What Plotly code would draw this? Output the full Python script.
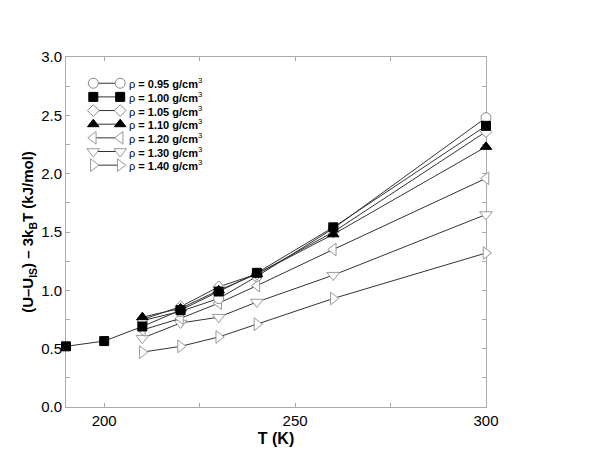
import plotly.graph_objects as go

# temperatures (K)
t_low = [190, 200, 210, 220, 230, 240, 260, 300]
t_main = [210, 220, 230, 240, 260, 300]

# (U - U_IS) - 3k_BT  (kJ/mol) for each density
u_095 = [0.74, 0.82, 0.93, 1.12, 1.53, 2.48]
u_100 = [0.52, 0.565, 0.69, 0.83, 0.99, 1.15, 1.54, 2.41]
u_105 = [0.75, 0.86, 1.03, 1.14, 1.50, 2.36]
u_110 = [0.77, 0.845, 1.00, 1.14, 1.48, 2.23]
u_120 = [0.66, 0.76, 0.89, 1.04, 1.35, 1.96]
u_130 = [0.59, 0.72, 0.77, 0.90, 1.13, 1.65]
u_140 = [0.47, 0.52, 0.60, 0.71, 0.93, 1.32]

densities = ["0.95", "1.00", "1.05", "1.10", "1.20", "1.30", "1.40"]

LINE = "#333333"
GREY = "#888888"
styles = [
    dict(symbol="circle", fill="white", edge=GREY, size=10),
    dict(symbol="square", fill="black", edge="black", size=9),
    dict(symbol="diamond", fill="white", edge=GREY, size=9),
    dict(symbol="triangle-up", fill="black", edge="black", size=10),
    dict(symbol="triangle-left", fill="white", edge="#999999", size=11),
    dict(symbol="triangle-down", fill="white", edge="#999999", size=11),
    dict(symbol="triangle-right", fill="white", edge="#999999", size=11),
]
xs = [t_main, t_low, t_main, t_main, t_main, t_main, t_main]
ys = [u_095, u_100, u_105, u_110, u_120, u_130, u_140]


def marker(st):
    return dict(symbol=st["symbol"], size=st["size"], color=st["fill"],
                line=dict(color=st["edge"], width=1))


fig = go.Figure()

# low-density series drawn last so the filled markers sit on top
order = [6, 5, 4, 0, 2, 1, 3]
for i in order:
    fig.add_trace(go.Scatter(
        x=xs[i], y=ys[i], mode="lines+markers",
        line=dict(color=LINE, width=1), marker=marker(styles[i]),
        cliponaxis=False, showlegend=False,
    ))

# hand-made legend: marker - line - marker, as in the original figure
leg_x = [0.065, 0.129]
leg_top = 0.925
leg_step = 0.039
for i, d in enumerate(densities):
    yy = leg_top - i * leg_step
    fig.add_trace(go.Scatter(
        x=leg_x, y=[yy, yy], xaxis="x2", yaxis="y2", mode="lines+markers",
        line=dict(color=LINE, width=1), marker=marker(styles[i]),
        showlegend=False, hoverinfo="skip",
    ))
    fig.add_annotation(
        x=0.146, y=yy, xref="paper", yref="paper", xanchor="left", yanchor="middle",
        text="ρ <b>= " + d + " g/cm</b><sup>3</sup>", showarrow=False,
        font=dict(size=11, color="black"),
    )

axis_common = dict(
    showline=True, linecolor="#aaaaaa", linewidth=1, mirror="ticks",
    ticks="inside", ticklen=4, tickcolor="#aaaaaa", showgrid=False, zeroline=False,
    tickfont=dict(size=15, color="black"), layer="below traces",
)

# page has an 8px body margin, so the figure is a bit smaller than the window
fig.update_layout(
    width=584, height=448,
    margin=dict(l=58, r=106, t=49, b=49),
    paper_bgcolor="white", plot_bgcolor="white",
    font=dict(family="Liberation Sans, Arial, sans-serif", color="black"),
    xaxis=dict(range=[190, 300], tickvals=[200, 250, 300],
               minor=dict(tickvals=[225, 275], ticks="inside", ticklen=4, tickcolor="#aaaaaa"),
               title=dict(text="<b>T (K)</b>", font=dict(size=16), standoff=4),
               **axis_common),
    yaxis=dict(range=[0, 3], dtick=0.5, tickformat=".1f",
               minor=dict(dtick=0.25, ticks="inside", ticklen=4, tickcolor="#aaaaaa"),
               title=dict(text="<b>(U–U<sub>IS</sub>) – 3k<sub>B</sub>T (kJ/mol)</b>",
                          font=dict(size=15), standoff=3),
               **axis_common),
    xaxis2=dict(overlaying="x", range=[0, 1], visible=False),
    yaxis2=dict(overlaying="y", range=[0, 1], visible=False),
)

fig.write_html("out.html")
